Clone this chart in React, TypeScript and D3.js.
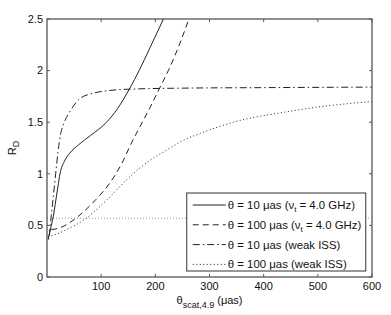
import React, { useEffect, useRef } from "react";
import * as d3 from "d3";

// theta_scat,4.9 (uas) vs R_D
const solidX = [2, 5, 8, 12, 15, 20, 24, 32, 42, 58, 80, 110, 130, 153, 170, 190, 215];
const solidY = [0.36, 0.43, 0.5, 0.6, 0.7, 0.87, 1.0, 1.12, 1.2, 1.28, 1.37, 1.5, 1.63, 1.83, 2.0, 2.22, 2.5];

const dashedX = [8, 20, 40, 67, 90, 116, 140, 156, 172, 190, 205, 224, 245, 262];
const dashedY = [0.46, 0.47, 0.52, 0.63, 0.75, 0.91, 1.12, 1.3, 1.46, 1.64, 1.8, 2.0, 2.26, 2.5];

const dashDotX = [4, 8, 12, 16, 20, 25, 32, 42, 61, 85, 120, 153, 250, 400, 600];
const dashDotY = [0.4, 0.6, 0.8, 1.0, 1.2, 1.38, 1.5, 1.6, 1.73, 1.78, 1.81, 1.82, 1.83, 1.835, 1.84];

const dottedX = [2, 20, 36, 55, 75, 95, 115, 135, 159, 190, 221, 250, 282, 344, 442, 520, 600];
const dottedY = [0.39, 0.42, 0.46, 0.51, 0.58, 0.67, 0.77, 0.88, 1.0, 1.13, 1.23, 1.32, 1.39, 1.5, 1.6, 1.66, 1.7];

const refLevel = 0.57;

const xTicks = [100, 200, 300, 400, 500, 600];
const yTicks = [0, 0.5, 1, 1.5, 2, 2.5];

const legendLabels = [
  { pre: "θ = 10 μas (ν", sub: "t", post: " = 4.0 GHz)", dash: "" },
  { pre: "θ = 100 μas (ν", sub: "t", post: " = 4.0 GHz)", dash: "6,4" },
  { pre: "θ = 10 μas (weak ISS)", sub: "", post: "", dash: "7,3,1.5,3" },
  { pre: "θ = 100 μas (weak ISS)", sub: "", post: "", dash: "1,2.5" },
];

const App = () => {
  const svgRef = useRef<SVGSVGElement>(null);

  useEffect(() => {
    const svg = d3.select(svgRef.current);
    svg.selectAll("*").remove();

    const margin = { top: 19, right: 19, bottom: 38, left: 47 };
    const width = 391;
    const height = 315;
    const w = width - margin.left - margin.right;
    const h = height - margin.top - margin.bottom;
    const font = "'Liberation Sans', Arial, sans-serif";

    const x = d3.scaleLinear().domain([0, 600]).range([0, w]);
    const y = d3.scaleLinear().domain([0, 2.5]).range([h, 0]);

    const g = svg.append("g").attr("transform", `translate(${margin.left},${margin.top})`);

    svg.append("defs").append("clipPath").attr("id", "plotclip")
      .append("rect").attr("width", w).attr("height", h);

    const plot = g.append("g").attr("clip-path", "url(#plotclip)");

    // reference level
    plot.append("line")
      .attr("x1", x(0)).attr("x2", x(600))
      .attr("y1", y(refLevel)).attr("y2", y(refLevel))
      .attr("stroke", "#999").attr("stroke-width", 1)
      .attr("stroke-dasharray", "1,2");

    const line = d3.line<[number, number]>()
      .x((d) => x(d[0]))
      .y((d) => y(d[1]))
      .curve(d3.curveMonotoneX);

    const series = [
      { xs: solidX, ys: solidY, dash: "" },
      { xs: dashedX, ys: dashedY, dash: "6,4" },
      { xs: dashDotX, ys: dashDotY, dash: "7,3,1.5,3" },
      { xs: dottedX, ys: dottedY, dash: "1,2.5" },
    ];

    series.forEach((s) => {
      plot.append("path")
        .datum(s.xs.map((v, i) => [v, s.ys[i]] as [number, number]))
        .attr("d", line)
        .attr("fill", "none")
        .attr("stroke", "#222")
        .attr("stroke-width", 1)
        .attr("stroke-dasharray", s.dash || null);
    });

    // box and inward ticks
    const axisColor = "#555";
    g.append("rect")
      .attr("width", w).attr("height", h)
      .attr("fill", "none").attr("stroke", axisColor).attr("stroke-width", 1.3);

    xTicks.forEach((t) => {
      g.append("line").attr("x1", x(t)).attr("x2", x(t)).attr("y1", h).attr("y2", h - 3)
        .attr("stroke", axisColor);
      g.append("line").attr("x1", x(t)).attr("x2", x(t)).attr("y1", 0).attr("y2", 3)
        .attr("stroke", axisColor);
      g.append("text").attr("x", x(t)).attr("y", h + 13)
        .attr("text-anchor", "middle").attr("font-family", font).attr("font-size", 11)
        .attr("fill", "#111").text(t);
    });

    yTicks.forEach((t) => {
      g.append("line").attr("x1", 0).attr("x2", 3).attr("y1", y(t)).attr("y2", y(t))
        .attr("stroke", axisColor);
      g.append("line").attr("x1", w).attr("x2", w - 3).attr("y1", y(t)).attr("y2", y(t))
        .attr("stroke", axisColor);
      g.append("text").attr("x", -4).attr("y", y(t)).attr("dy", "0.35em")
        .attr("text-anchor", "end").attr("font-family", font).attr("font-size", 11)
        .attr("fill", "#111").text(String(t));
    });

    // axis titles
    const xt = g.append("text").attr("x", w / 2).attr("y", h + 27)
      .attr("text-anchor", "middle").attr("font-family", font).attr("font-size", 11)
      .attr("fill", "#111");
    xt.append("tspan").text("θ");
    xt.append("tspan").attr("dy", 4).attr("font-size", 9).text("scat,4.9");
    xt.append("tspan").attr("dy", -4).text(" (μas)");

    const yt = svg.append("text")
      .attr("transform", `translate(16,${margin.top + h / 2}) rotate(-90)`)
      .attr("text-anchor", "middle").attr("font-family", font).attr("font-size", 11)
      .attr("fill", "#111");
    yt.append("tspan").text("R");
    yt.append("tspan").attr("dy", 3).attr("font-size", 9).text("D");

    // legend
    const lx = x(258);
    const ly = 174;
    const lw = 179;
    const lh = 78;
    const lg = g.append("g").attr("transform", `translate(${lx},${ly})`);
    lg.append("rect").attr("width", lw).attr("height", lh)
      .attr("fill", "#fff").attr("stroke", "#333").attr("stroke-width", 1);

    legendLabels.forEach((item, i) => {
      const cy = 12 + i * 19.8;
      lg.append("line").attr("x1", 6).attr("x2", 39).attr("y1", cy).attr("y2", cy)
        .attr("stroke", "#222").attr("stroke-width", 1)
        .attr("stroke-dasharray", item.dash || null);
      const tx = lg.append("text").attr("x", 41).attr("y", cy).attr("dy", "0.35em")
        .attr("font-family", font).attr("font-size", 11.4).attr("fill", "#111");
      tx.append("tspan").text(item.pre);
      if (item.sub) {
        tx.append("tspan").attr("dy", 3).attr("font-size", 8).text(item.sub);
        tx.append("tspan").attr("dy", -3).text(item.post);
      }
    });
  }, []);

  return (
    <svg
      ref={svgRef}
      width={391}
      height={315}
      style={{ position: "absolute", left: 0, top: 0, background: "#fff" }}
    />
  );
};

export default App;
